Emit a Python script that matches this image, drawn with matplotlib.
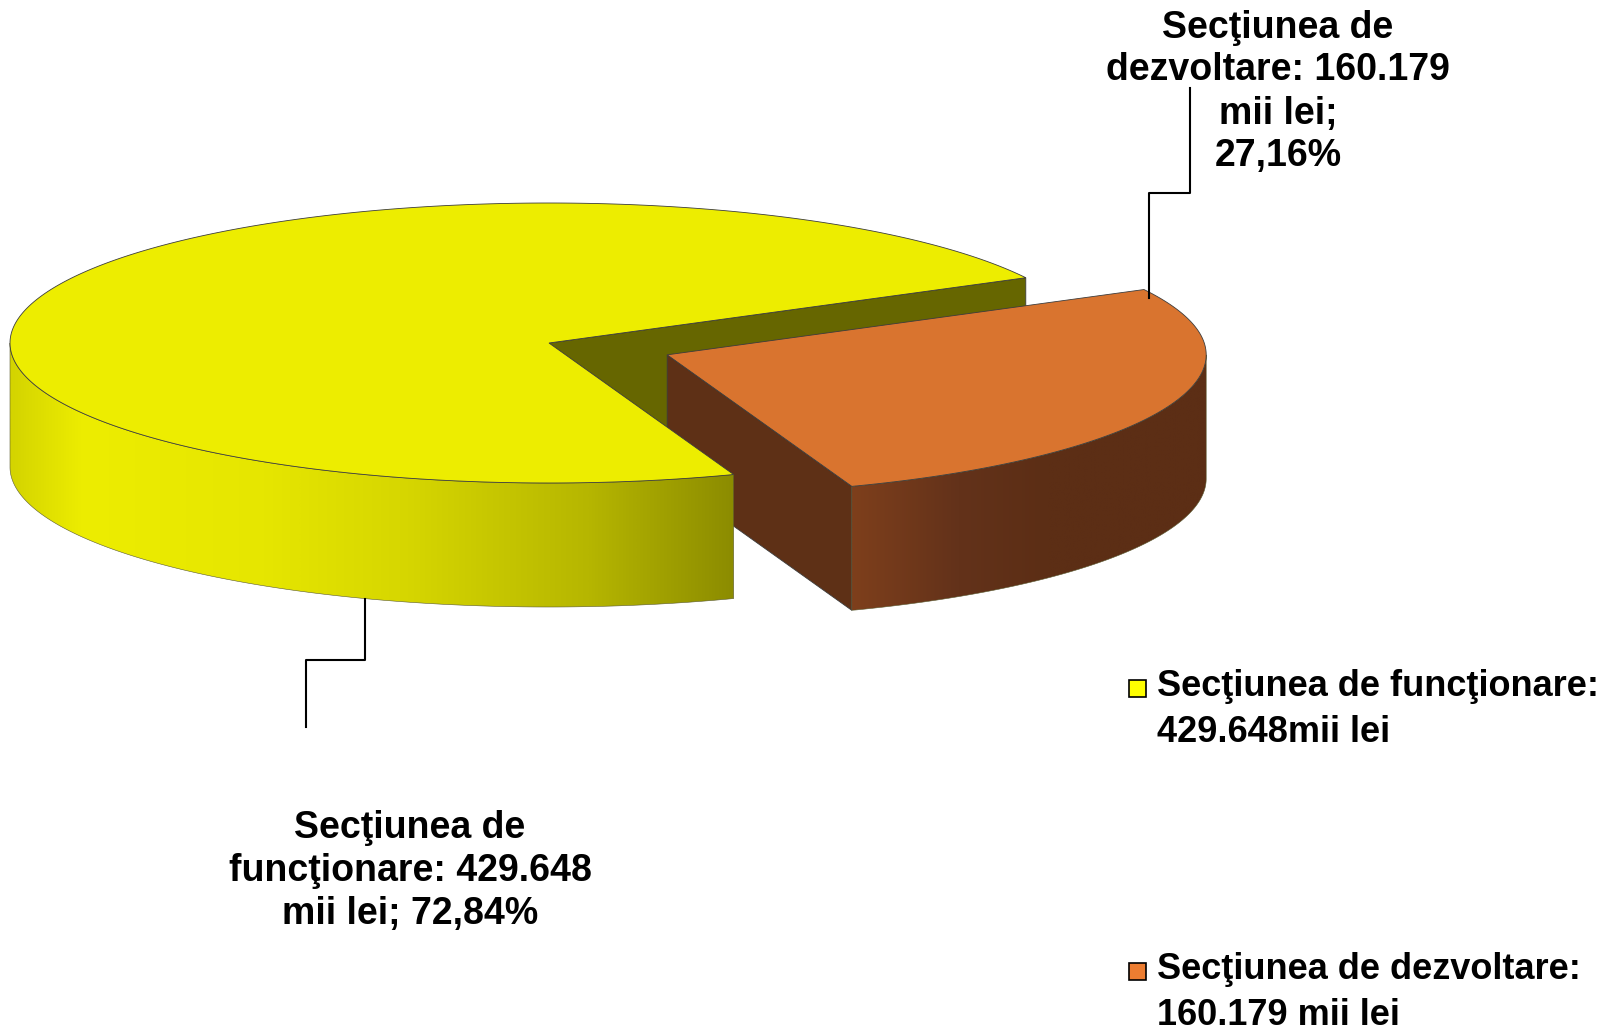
import numpy as np
import matplotlib

matplotlib.use('Agg')
import matplotlib.pyplot as plt
from matplotlib.colors import LinearSegmentedColormap
from matplotlib.patches import Polygon, Rectangle

# data
names = ['Secţiunea de funcţionare', 'Secţiunea de dezvoltare']
values = [429.648, 160.179]
value_text = ['429.648', '160.179']
legend_text = ['Secţiunea de funcţionare:\n429.648mii lei',
               'Secţiunea de dezvoltare:\n160.179 mii lei']

# styling
top_colors = ['#EDED00', '#D9742F']
face_colors = ['#666600', '#5E3016']
side_stops = [
    [(0.0, '#D4D400'), (0.1, '#EDED00'), (0.35, '#E6E600'), (0.55, '#D6D600'),
     (0.8, '#B6B600'), (1.0, '#8C8C00')],
    [(0.0, '#7E3F1C'), (0.3, '#63321A'), (0.55, '#5C2E15'), (1.0, '#5C2E15')],
]
legend_colors = ['#FFFF00', '#ED7D31']

# pie geometry in figure pixels (y grows downward)
CX, CY = 549, 343
RX, RY = 539, 140
DEPTH = 124
EXPLODE = [0.0, 0.235]
START = 27.8

W, H = 1616, 1031
fig = plt.figure(figsize=(W / 100, H / 100), dpi=100)
ax = fig.add_axes([0, 0, 1, 1])
ax.set_xlim(0, W)
ax.set_ylim(H, 0)
ax.axis('off')

total = sum(values)
spans = [360.0 * v / total for v in values]
bounds = []
t = START
for s in spans:
    bounds.append((t, t + s))
    t += s


def rim(cx, cy, ang, dz=0.0):
    a = np.radians(ang)
    return np.column_stack([cx + RX * np.cos(a), cy - RY * np.sin(a) + dz])


def slice_center(i):
    t1, t2 = bounds[i]
    mid = np.radians((t1 + t2) / 2)
    return CX + EXPLODE[i] * RX * np.cos(mid), CY - EXPLODE[i] * RY * np.sin(mid)


def cut_face(i, ang):
    cx, cy = slice_center(i)
    p = rim(cx, cy, np.array([ang]))[0]
    return np.array([[cx, cy], p, [p[0], p[1] + DEPTH], [cx, cy + DEPTH]])


def top_face(i):
    cx, cy = slice_center(i)
    t1, t2 = bounds[i]
    arc = rim(cx, cy, np.linspace(t1, t2, 300))
    return np.vstack([[cx, cy], arc])


def outer_side(i):
    cx, cy = slice_center(i)
    t1, t2 = bounds[i]
    lo, hi = max(t1, 180.0), min(t2, 360.0)
    angs = np.linspace(lo, hi, 300)
    top = rim(cx, cy, angs)
    bot = rim(cx, cy, angs[::-1], DEPTH)
    return np.vstack([top, bot])


def draw_side(i, z):
    pts = outer_side(i)
    poly = Polygon(pts, closed=True, facecolor='none', edgecolor='none', zorder=z)
    ax.add_patch(poly)
    x0, x1 = pts[:, 0].min(), pts[:, 0].max()
    y0, y1 = pts[:, 1].min(), pts[:, 1].max()
    cmap = LinearSegmentedColormap.from_list('side%d' % i, side_stops[i])
    grad = np.linspace(0, 1, 512)[None, :]
    im = ax.imshow(grad, cmap=cmap, extent=(x0, x1, y1, y0), aspect='auto',
                   interpolation='bilinear', zorder=z)
    im.set_clip_path(poly)
    ax.add_patch(Polygon(pts, closed=True, facecolor='none', edgecolor='#5a5a30',
                         lw=0.4, zorder=z + 0.1))
    ax.set_xlim(0, W)
    ax.set_ylim(H, 0)


edge = dict(edgecolor='#3c3c3c', lw=0.6)

# yellow back cut face (visible behind orange slice)
ax.add_patch(Polygon(cut_face(0, bounds[0][0]), facecolor=face_colors[0], **edge, zorder=1))

# orange exploded slice
ax.add_patch(Polygon(cut_face(1, bounds[1][0]), facecolor=face_colors[1], **edge, zorder=2))
draw_side(1, 3)
ax.add_patch(Polygon(top_face(1), facecolor=top_colors[1], **edge, zorder=4))

# yellow slice in front
draw_side(0, 5)
ax.add_patch(Polygon(top_face(0), facecolor=top_colors[0], **edge, zorder=6))

# data labels
font = dict(family='Liberation Sans', weight='bold', color='black')
pcts = ['{:.2f}%'.format(100 * v / total).replace('.', ',') for v in values]

ax.text(410, 871, 'Secţiunea de\nfuncţionare: %s\nmii lei; %s' % (value_text[0], pcts[0]),
        ha='center', va='center', linespacing=1.25, fontsize=27, zorder=10, **font)
ax.text(1278, 92, 'Secţiunea de\ndezvoltare: %s\nmii lei;\n%s' % (value_text[1], pcts[1]),
        ha='center', va='center', linespacing=1.25, fontsize=27, zorder=10, **font)

# leader lines, anchored on the slices
cx0, cy0 = slice_center(0)
a0 = rim(cx0, cy0, np.array([250.0]), DEPTH)[0]
ax.plot([a0[0], a0[0], 306, 306], [a0[1], 660, 660, 727], color='black', lw=1.5, zorder=9)
cx1, cy1 = slice_center(1)
a1 = rim(cx1, cy1, np.array([bounds[1][1] - 1.2]))[0]
ax.plot([a1[0], a1[0], 1190, 1190], [a1[1] + 6, 193, 193, 88], color='black', lw=1.5,
        zorder=9)

# legend
for k, (txt, col) in enumerate(zip(legend_text, legend_colors)):
    y = 689 + k * 283
    ax.add_patch(Rectangle((1129, y - 9), 17, 17, facecolor=col, edgecolor='black', lw=1.2,
                           zorder=10))
    ax.text(1157, y - 20, txt, ha='left', va='top', linespacing=1.4, fontsize=26,
            zorder=10, **font)

fig.savefig('out.png', dpi=100)
